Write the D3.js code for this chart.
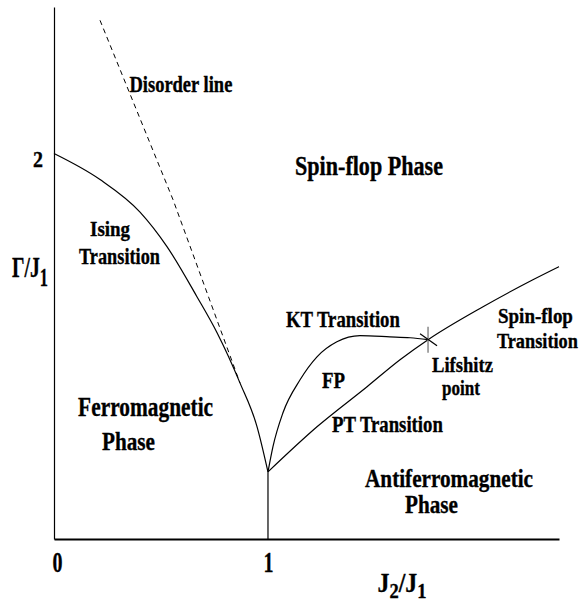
<!DOCTYPE html>
<html>
<head>
<meta charset="utf-8">
<script src="https://cdn.jsdelivr.net/npm/d3@7"></script>
<style>
  body { margin: 0; background: #fff; }
  text { font-family: "Liberation Serif", "Times New Roman", serif; font-weight: bold; fill: #000;
         stroke: #000; stroke-width: 0.35px; }
</style>
</head>
<body>
<div id="chart"></div>
<script>
// axis ranges (J2/J1 horizontal, Gamma/J1 vertical)
const xDomain = [0, 2.36];
const yDomain = [0, 2.76];
const xTicks = [0, 1];
const yTicks = [2];

// phase boundaries
const isingLine = [[0, 2.0], [0.215, 1.865], [0.402, 1.696], [0.528, 1.517], [0.668, 1.257],
    [0.762, 1.070], [0.869, 0.810], [0.949, 0.582], [1.0, 0.348]];
const disorderLine = [[0.215, 2.691], [0.556, 1.761], [0.869, 0.810]];
const ferroAfmLine = [[1.0, 0], [1.0, 0.348]];
const ktLine = [[1.0, 0.348], [1.023, 0.478], [1.070, 0.655], [1.150, 0.826], [1.229, 0.945],
    [1.322, 1.023], [1.430, 1.055], [1.570, 1.049], [1.664, 1.044], [1.748, 1.034]];
const ptSpinFlopLine = [[1.0, 0.348], [1.229, 0.582], [1.463, 0.790], [1.617, 0.930], [1.748, 1.034],
    [2.005, 1.205], [2.238, 1.345], [2.360, 1.413]];
const lifshitzPoint = [1.748, 1.034];

// region / line names
const labelTexts = ['Disorder line', 'Spin-flop Phase', 'Ising', 'Transition', 'KT Transition', 'FP',
    'PT Transition', 'Lifshitz', 'point', 'Spin-flop', 'Transition', 'Antiferromagnetic', 'Phase',
    'Ferromagnetic', 'Phase'];

// where each label sits (data coords of centre/baseline), target width px, font size
const labelLayout = [
    { x: 0.593, y: 2.317, w: 103, fs: 23 },
    { x: 1.472, y: 1.886, w: 148, fs: 27 },
    { x: 0.262, y: 1.574, w: 40, fs: 22 },
    { x: 0.306, y: 1.429, w: 81, fs: 24 },
    { x: 1.350, y: 1.101, w: 114, fs: 23 },
    { x: 1.306, y: 0.784, w: 23, fs: 24 },
    { x: 1.558, y: 0.556, w: 111, fs: 23 },
    { x: 1.909, y: 0.868, w: 61, fs: 22 },
    { x: 1.902, y: 0.748, w: 38, fs: 22 },
    { x: 2.250, y: 1.122, w: 75, fs: 22 },
    { x: 2.259, y: 0.992, w: 81, fs: 22 },
    { x: 1.846, y: 0.270, w: 168, fs: 26 },
    { x: 1.764, y: 0.135, w: 53, fs: 26 },
    { x: 0.428, y: 0.639, w: 135, fs: 28 },
    { x: 0.348, y: 0.462, w: 53, fs: 26 }
];

const width = 581, height = 602;
const margin = { top: 7, right: 22, bottom: 63, left: 54 };

const svg = d3.select('#chart')
    .append('svg')
    .attr('width', width)
    .attr('height', height);

const x = d3.scaleLinear().domain(xDomain).range([margin.left, width - margin.right]);
const y = d3.scaleLinear().domain(yDomain).range([height - margin.bottom, margin.top]);

// squeeze text horizontally to the narrow look of the original
function squeeze(textSel, targetW) {
    const w0 = textSel.node().getComputedTextLength();
    textSel.attr('transform', `scale(${targetW / w0},1)`);
}

// axes
const xAxis = svg.append('g')
    .attr('transform', `translate(0,${y(0)})`)
    .call(d3.axisBottom(x).tickValues(xTicks).tickSize(0).tickPadding(12).tickFormat(d3.format('d')));
xAxis.select('.domain').attr('stroke-width', 1.8);
xAxis.selectAll('.tick text')
    .attr('font-family', null)
    .style('font-size', '29px')
    .each(function () { squeeze(d3.select(this), 10); });
xAxis.selectAll('.tick').filter(d => d === 0).select('text').attr('x', 3 * 29 / 20);

const yAxis = svg.append('g')
    .attr('transform', `translate(${x(0)},0)`)
    .call(d3.axisLeft(y).tickValues(yTicks).tickSize(0).tickFormat(d3.format('d')));
yAxis.select('.domain').attr('stroke-width', 1.2);
yAxis.selectAll('.tick text')
    .attr('font-family', null)
    .attr('x', 0).attr('dy', null).attr('y', 13)
    .attr('text-anchor', 'middle')
    .style('font-size', '23px')
    .each(function () {
        const t = d3.select(this);
        const w0 = this.getComputedTextLength();
        t.attr('transform', `translate(-16,0) scale(${10 / w0},1)`);
    });

// axis titles
const yTitle = svg.append('g').attr('transform', 'translate(30,277)')
    .append('text').attr('text-anchor', 'middle').style('font-size', '30px');
yTitle.append('tspan').text('Γ/J');
yTitle.append('tspan').attr('dy', 9).style('font-size', '25px').text('1');
squeeze(yTitle, 36);

const xTitle = svg.append('g').attr('transform', 'translate(402,592)')
    .append('text').attr('text-anchor', 'middle').style('font-size', '27px');
xTitle.append('tspan').text('J');
xTitle.append('tspan').attr('dy', 6).style('font-size', '21px').text('2');
xTitle.append('tspan').attr('dy', -6).text('/J');
xTitle.append('tspan').attr('dy', 6).style('font-size', '21px').text('1');
squeeze(xTitle, 49);

// phase boundaries
const line = d3.line().x(d => x(d[0])).y(d => y(d[1])).curve(d3.curveMonotoneX);
const boundaries = svg.append('g')
    .attr('fill', 'none')
    .attr('stroke', '#000')
    .attr('stroke-width', 1.2);

boundaries.append('path').attr('d', line(isingLine));
boundaries.append('path').attr('d', line(ktLine));
boundaries.append('path').attr('d', line(ptSpinFlopLine));
boundaries.append('path').attr('d', d3.line().x(d => x(d[0])).y(d => y(d[1]))(ferroAfmLine));
boundaries.append('path')
    .attr('d', d3.line().x(d => x(d[0])).y(d => y(d[1]))(disorderLine))
    .attr('stroke-dasharray', '5,4')
    .attr('stroke-width', 1);

// Lifshitz point marker
const lp = svg.append('g')
    .attr('transform', `translate(${x(lifshitzPoint[0])},${y(lifshitzPoint[1])})`);
lp.append('line').attr('x1', 0).attr('x2', 0).attr('y1', -13).attr('y2', 13)
    .attr('stroke', '#888').attr('stroke-width', 1.5);
lp.append('line').attr('x1', -8).attr('y1', -6).attr('x2', 9).attr('y2', 6)
    .attr('stroke', '#000').attr('stroke-width', 1.2);

// region labels
labelTexts.forEach((txt, i) => {
    const L = labelLayout[i];
    const t = svg.append('g')
        .attr('transform', `translate(${x(L.x)},${y(L.y)})`)
        .append('text')
        .attr('text-anchor', 'middle')
        .style('font-size', L.fs + 'px')
        .text(txt);
    squeeze(t, L.w);
});
</script>
</body>
</html>
